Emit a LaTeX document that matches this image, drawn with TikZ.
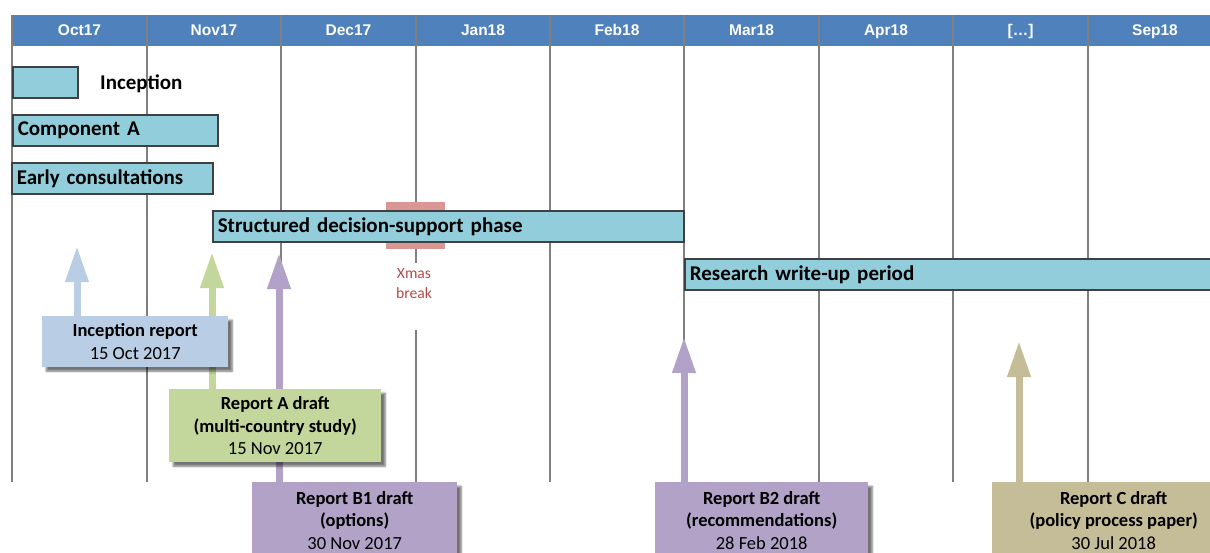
\documentclass[tikz,border=0pt]{standalone}
\usepackage{fontspec}
\setmainfont{Carlito}
\newfontfamily\hdrfont{Liberation Sans}
\usetikzlibrary{arrows.meta,shadows.blur}
\definecolor{hdrblue}{HTML}{4F81BD}
\definecolor{gridgray}{HTML}{808080}
\definecolor{barfill}{HTML}{92CDDC}
\definecolor{barline}{HTML}{404040}
\definecolor{xmaspink}{HTML}{DA9694}
\definecolor{xmastext}{HTML}{B54A48}
\definecolor{incblue}{HTML}{B9CDE5}
\definecolor{agreen}{HTML}{C3D69B}
\definecolor{bpurple}{HTML}{B3A2C7}
\definecolor{ctan}{HTML}{C4BD97}
\pgfdeclarelayer{boxlayer}
\pgfsetlayers{main,boxlayer}
\begin{document}
\begin{tikzpicture}[x=1pt,y=-1pt,
  grid/.style={draw=gridgray, line width=1.5pt},
  month/.style={text=white, inner sep=0pt, anchor=base, font=\hdrfont\fontsize{15.5}{18}\selectfont\bfseries},
  bar/.style={draw=barline, fill=barfill, line width=1.6pt, inner xsep=5pt, inner ysep=0pt,
    anchor=north west, align=left, minimum height=31pt, font=\fontsize{21}{25}\selectfont\bfseries},
  report/.style={fill=#1, anchor=north west, align=center, inner sep=0pt,
    font=\fontsize{18.5}{22.5}\selectfont,
    blur shadow={shadow xshift=4pt, shadow yshift=-4pt, shadow blur steps=6, shadow opacity=55}},
  milestone/.style={draw=#1, line width=7pt, -{Triangle[width=22pt,length=36pt,fill=#1]}},
]
\useasboundingbox (0,0) rectangle (1210,552);

% header band
\fill[hdrblue] (12,15) rectangle (1210,46);
\node[month] (m1) at (79.5,35.5) {Oct17};
\node[month] (m2) at (214,35.5) {Nov17};
\node[month] (m3) at (348.5,35.5) {Dec17};
\node[month] (m4) at (483,35.5) {Jan18};
\node[month] (m5) at (617,35.5) {Feb18};
\node[month] (m6) at (751.5,35.5) {Mar18};
\node[month] (m7) at (886,35.5) {Apr18};
\node[month] (m8) at (1020.5,35.5) {[\ldots]};
\node[month] (m9) at (1155,35.5) {Sep18};
% grid lines
\foreach \gx in {12,147,281,550,684,819,953,1088}
  \draw[grid] (\gx,15) -- (\gx,482);
\draw[grid] (416,15) -- (416,263);
\draw[grid] (416,330) -- (416,482);
% Christmas break
\fill[xmaspink] (386,202) rectangle (445,249);
\node[text=xmastext, align=center, inner sep=0pt, font=\fontsize{15.6}{20}\selectfont] (xmas) at (414,284) {Xmas\\break};
% bars
\node[bar, text width=55pt] (legend) at (12,66) {};
\node[anchor=west, inner sep=0pt, font=\fontsize{21}{25}\selectfont\bfseries] (legendlbl) at (100,84) {Inception};
\node[bar, text width=195pt] (compA) at (12,114) {Component A};
\node[bar, text width=191pt] (early) at (11,162) {Early consultations};
\node[bar, text width=461pt] (sds) at (212,210) {Structured decision-support phase};
\begin{scope}
  \clip (0,0) rectangle (1210,552);
  \node[bar, text width=521pt] (rwp) at (684,258) {Research write-up period};
\end{scope}

% report boxes (on the front layer)
\begin{pgfonlayer}{boxlayer}
  \begin{scope}
  \clip (0,0) rectangle (1210,552);
  \node[report=incblue, minimum width=186pt, minimum height=51pt] (rinc) at (42,316)
    {\textbf{Inception report}\\15 Oct 2017};
  \node[report=agreen, minimum width=212pt, minimum height=73pt] (ra) at (169,389)
    {\textbf{Report A draft}\\\textbf{(multi-country study)}\\15 Nov 2017};
  \node[report=bpurple, minimum width=205pt, minimum height=76pt] (rb1) at (252,482)
    {\textbf{Report B1 draft}\\\textbf{(options)}\\30 Nov 2017};
  \node[report=bpurple, minimum width=213pt, minimum height=76pt] (rb2) at (655,482)
    {\textbf{Report B2 draft}\\\textbf{(recommendations)}\\28 Feb 2018};
  \node[report=ctan, minimum width=243pt, minimum height=76pt] (rc) at (992,482)
    {\textbf{Report C draft}\\\textbf{(policy process paper)}\\30 Jul 2018};
  \end{scope}
\end{pgfonlayer}

% milestone arrows
\coordinate (tinc) at (77,246);
\coordinate (ta) at (212,252);
\coordinate (tb1) at (279,253);
\coordinate (tb2) at (684,337);
\coordinate (tc) at (1019,341);
\draw[milestone=incblue] (rinc.north -| tinc) -- (tinc);
\draw[milestone=agreen] (ra.north -| ta) -- (ta);
\draw[milestone=bpurple] (rb1.north -| tb1) -- (tb1);
\draw[milestone=bpurple] (rb2.north -| tb2) -- (tb2);
\draw[milestone=ctan] (rc.north -| tc) -- (tc);
\end{tikzpicture}
\end{document}
